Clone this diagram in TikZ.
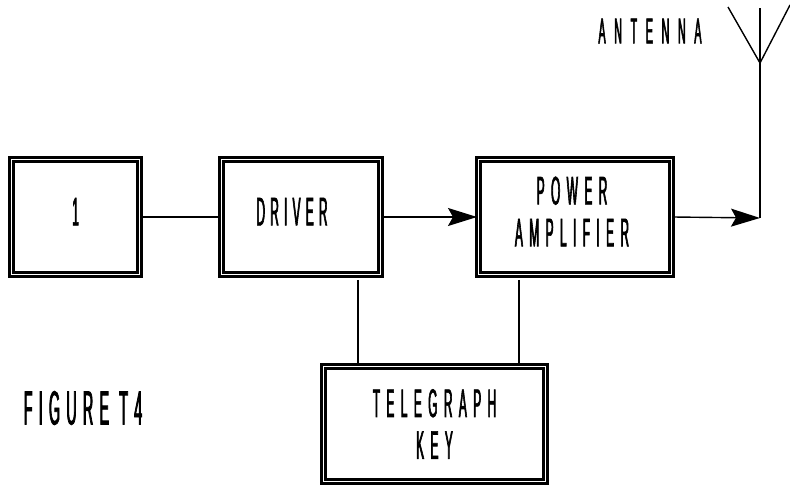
\documentclass[tikz,border=0pt]{standalone}
\usepackage{fontspec}
\newfontfamily\cf[FakeStretch=0.3,LetterSpace=24,FakeBold=1.5]{Liberation Sans}
\newfontfamily\cg[FakeStretch=0.3,LetterSpace=16,FakeBold=1.5]{Liberation Sans}
\newfontfamily\ch[FakeStretch=0.3,LetterSpace=13,FakeBold=1.5]{Liberation Sans}
\newcommand\lowtext[1]{\raisebox{-6bp}{\begin{tabular}{@{}c@{}}#1\end{tabular}}}
\usetikzlibrary{arrows.meta}
\begin{document}
\begin{tikzpicture}[x=1bp,y=-1bp,
  blk/.style={draw=black, double=white, line width=3bp, double distance=1bp,
    minimum height=115bp, inner sep=0pt, align=center,
    font=\cg\fontsize{40}{42}\selectfont},
  lbl/.style={inner sep=0pt, font=\cf\fontsize{36}{30}\selectfont},
  wire/.style={line width=1.4bp},
  arr/.style={wire, -{Stealth[length=29bp, width=18bp, inset=5bp]}}]
\useasboundingbox (0,0) rectangle (790,487);
\node[blk, minimum width=128bp] (one) at (75.5,217) {\lowtext{1}};
\node[blk, minimum width=159bp, font=\ch\fontsize{40}{42}\selectfont] (drv) at (301,217) {\lowtext{DRIVER}\hspace*{18bp}};
\node[blk, minimum width=193bp] (pa) at (575,217) {\lowtext{POWER\\AMPLIFIER}\hspace*{6bp}};
\node[blk, minimum width=222bp] (tk) at (434.5,424) {TELEGRAPH\\KEY};
\node[lbl] (ant) at (650,31) {ANTENNA};
\node[lbl, font=\ch\fontsize{48}{36}\selectfont] (fig) at (83,408) {FIGURE T4};
\coordinate (ab) at (760,218);
\coordinate (av) at (760,63);
\coordinate (at) at (760,8);
\coordinate (al) at (728,7);
\coordinate (ar) at (790,5);
\coordinate (d1) at (358,280);
\coordinate (p1) at (519,280);
\draw[wire] (one.east) -- (drv.west);
\draw[arr] (drv.east) -- (pa.west);
\draw[arr] (pa.east) -- (ab);
\draw[wire] (ab) -- (at);
\draw[wire] (al) -- (av) -- (ar);
\draw[line width=1.1bp] (d1) -- (d1 |- tk.north);
\draw[line width=1.1bp] (p1) -- (p1 |- tk.north);
\end{tikzpicture}
\end{document}
